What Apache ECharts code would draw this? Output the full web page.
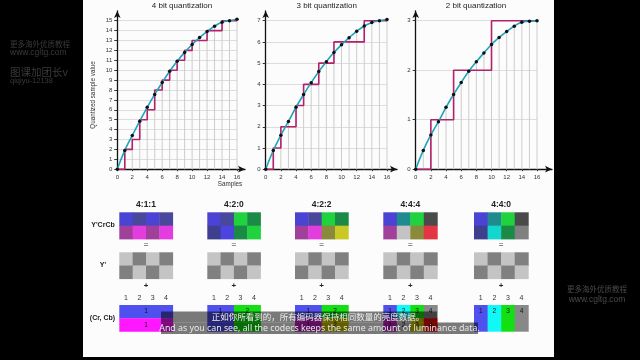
<!DOCTYPE html>
<html><head><meta charset="utf-8">
<script src="https://cdn.jsdelivr.net/npm/echarts@6/dist/echarts.min.js"></script>
<style>html,body{margin:0;padding:0;background:#000}#c{width:640px;height:360px}</style>
</head><body><div id="c"></div>
<script>
// ---------- data ----------
const samples = [0,1,2,3,4,5,6,7,8,9,10,11,12,13,14,15,16];
const curve4 = [0,1.9,3.4,4.85,6.25,7.55,8.75,9.9,10.9,11.8,12.6,13.3,13.9,14.45,14.85,15.0,15.15];
const quant4 = [0,2,3,5,6,8,9,10,11,12,13,13,14,14,15,15,15];
const curve3 = [0,0.88,1.6,2.25,2.92,3.52,4.08,4.6,5.07,5.5,5.87,6.2,6.5,6.75,6.92,7.0,7.06];
const quant3 = [0,1,2,2,3,4,4,5,5,6,6,6,6,7,7,7,7];
const curve2 = [0,0.38,0.69,0.96,1.25,1.51,1.75,1.98,2.17,2.35,2.52,2.66,2.78,2.89,2.97,2.99,3.0];
const quant2 = [0,0,1,1,1,2,2,2,2,2,3,3,3,3,3,3,3];
const chartTitles = ['4 bit quantization','3 bit quantization','2 bit quantization'];
const levelMax = [15,7,3];

const formats = ['4:1:1','4:2:0','4:2:2','4:4:4','4:4:0'];
const rowLabels = ["Y'CrCb","Y'","(Cr, Cb)"];
const columnNumbers = ['1','2','3','4'];
const ycc411 = [['#4a43d4','#4a489c','#4a43d4','#4a489c'],['#a1409b','#e33de0','#a1409b','#e33de0']];
const ycc420 = [['#4a43d4','#4a489c','#1fd23e','#1a8a46'],['#3f3f8f','#4b44e0','#1a8a46','#1fd23e']];
const ycc422 = [['#4a43d4','#4a489c','#1fd23e','#1a8a46'],['#a1409b','#e33de0','#8a8a3c','#c9c824']];
const ycc444 = [['#4a43d4','#1f8b8e','#1fd23e','#4a4a4a'],['#a1409b','#c3c3c3','#8a8a3c','#e33543']];
const ycc440 = [['#4a43d4','#1f8b8e','#1fd23e','#4a4a4a'],['#3f3f8f','#13d6cf','#1a8a46','#808080']];
const luma = [['#c4c4c4','#808080','#c4c4c4','#808080'],['#808080','#c4c4c4','#808080','#c4c4c4']];
// [col0, col1, row0, row1, colour, label]
const chroma411 = [[0,4,0,1,'#5050ee','1'],[0,4,1,2,'#ff18ff','1']];
const chroma420 = [[0,2,0,2,'#5050ee','1'],[2,4,0,2,'#12e012','2']];
const chroma422 = [[0,2,0,1,'#5050ee','1'],[2,4,0,1,'#12e012','2'],[0,2,1,2,'#c020c0','1'],[2,4,1,2,'#c8c400','2']];
const chroma444 = [[0,1,0,1,'#5050ee','1'],[1,2,0,1,'#10f8f8','2'],[2,3,0,1,'#12e012','3'],[3,4,0,1,'#888888','4'],
                   [0,1,1,2,'#c020c0','1'],[1,2,1,2,'#d0d0d0','2'],[2,3,1,2,'#c8c400','3'],[3,4,1,2,'#f01010','4']];
const chroma440 = [[0,1,0,2,'#5050ee','1'],[1,2,0,2,'#10f8f8','2'],[2,3,0,2,'#12e012','3'],[3,4,0,2,'#888888','4']];
const subtitleZh = '正如你所看到的，所有编码器保持相同数量的亮度数据。';
const subtitleEn = 'And as you can see, all the codecs keeps the same amount of luminance data.';

// ---------- layout ----------
const FONT = '"Liberation Sans", Arial, sans-serif';
const chart = echarts.init(document.getElementById('c'));
const grids = [], xAxes = [], yAxes = [], series = [], graphics = [];
function addGrid(g, xa, ya) {
  grids.push(g); xa.gridIndex = grids.length - 1; ya.gridIndex = grids.length - 1;
  xAxes.push(xa); yAxes.push(ya);
  return { xi: xAxes.length - 1, yi: yAxes.length - 1, gi: grids.length - 1 };
}
function txt(text, x, y, size, color, opts) {
  opts = opts || {};
  graphics.push({ type: 'text', x: x, y: y, z: opts.z || 50, style: {
    text: text, fill: color, fontSize: size, fontFamily: opts.family || FONT, fontWeight: opts.weight || 'normal',
    align: opts.align || 'center', textAlign: opts.align || 'center', verticalAlign: 'middle', textVerticalAlign: 'middle' } });
}

// panel
graphics.push({ type: 'rect', z: -10, shape: { x: 83, y: 0, width: 471, height: 357 }, style: { fill: '#fcfcfc' } });

// quantization charts
const curves = [curve4, curve3, curve2];
const quants = [quant4, quant3, quant2];
const cLeft = [117.3, 265.7, 415.7];
const cWidth = [119.7, 121.3, 121.3];
const cTop = 20.7, cBottom = 169.2;
const arrowX = [245, 397, 552];
const titleX = [182, 326.7, 476];
for (let i = 0; i < 3; i++) {
  const ax = addGrid({ left: cLeft[i], top: cTop, width: cWidth[i], height: cBottom - cTop },
    { type: 'value', min: 0, max: 16, interval: 2,
      axisLine: { show: false }, axisTick: { show: true, length: 2, lineStyle: { color: '#333' } },
      axisLabel: { fontSize: 6, color: '#333', margin: 5, fontFamily: FONT }, splitLine: { show: false } },
    { type: 'value', min: 0, max: levelMax[i], interval: 1,
      axisLine: { show: false }, axisTick: { show: true, length: 3, lineStyle: { color: '#333' } },
      axisLabel: { fontSize: 6, color: '#333', margin: 5, fontFamily: FONT },
      splitLine: { show: true, lineStyle: { color: '#d4d4d4', width: 0.8 } },
      name: i === 0 ? 'Quantized sample value' : '', nameLocation: 'middle', nameGap: 21, nameRotate: 90,
      nameTextStyle: { fontSize: 6.3, color: '#333', fontFamily: FONT } });
  series.push({ type: 'bar', xAxisIndex: ax.xi, yAxisIndex: ax.yi, barWidth: 1, silent: true, z: 1,
    itemStyle: { color: '#cdcdcd' }, data: samples.map((s, j) => [s, curves[i][j]]) });
  series.push({ type: 'line', xAxisIndex: ax.xi, yAxisIndex: ax.yi, step: 'end', symbol: 'none', z: 3, clip: false,
    lineStyle: { color: '#b3216b', width: 1.6 }, data: samples.map((s, j) => [s, quants[i][j]]) });
  series.push({ type: 'line', xAxisIndex: ax.xi, yAxisIndex: ax.yi, smooth: true, symbol: 'circle', symbolSize: 3.5, z: 4, clip: false,
    lineStyle: { color: '#1ea3bf', width: 1.6 }, itemStyle: { color: '#111' },
    data: samples.map((s, j) => [s, curves[i][j]]) });
  // axis lines with arrows
  const axisArrow = { show: true, symbol: ['none', 'arrow'], symbolSize: [5, 7], lineStyle: { color: '#111', width: 1.3 } };
  addGrid({ left: cLeft[i], top: 11, width: arrowX[i] - cLeft[i], height: cBottom - 11 },
    { type: 'value', min: 0, max: 1, axisLine: axisArrow, axisTick: { show: false }, axisLabel: { show: false }, splitLine: { show: false } },
    { type: 'value', min: 0, max: 1, axisLine: axisArrow, axisTick: { show: false }, axisLabel: { show: false }, splitLine: { show: false } });
  txt(chartTitles[i], titleX[i], 6, 8, '#222');
}
txt('Samples', 230, 184, 6.3, '#333');

// chroma subsampling grids
const yccBlocks = [ycc411, ycc420, ycc422, ycc444, ycc440];
const chromaBlocks = [chroma411, chroma420, chroma422, chroma444, chroma440];
const bLeft = [119.3, 207.3, 295, 383.3, 474];
const bWidth = [53.4, 53.2, 53.3, 54, 54.3];
const rTop = [212.3, 252.3, 305];
const rHeight = [26.7, 26.4, 26.3];
function toCells(m) {
  const out = [];
  m.forEach((row, r) => row.forEach((c, k) => out.push([k, k + 1, r, r + 1, c, null])));
  return out;
}
function cellSeries(items, ax) {
  return {
    type: 'custom', xAxisIndex: ax.xi, yAxisIndex: ax.yi, silent: true,
    encode: { x: [0, 1], y: [2, 3] },
    data: items.map(d => [d[0], d[1], d[2], d[3]]),
    renderItem: function (params, api) {
      const d = items[params.dataIndex];
      const a = api.coord([api.value(0), api.value(2)]);
      const b = api.coord([api.value(1), api.value(3)]);
      const x = Math.min(a[0], b[0]), y = Math.min(a[1], b[1]);
      const w = Math.abs(b[0] - a[0]), h = Math.abs(b[1] - a[1]);
      const children = [{ type: 'rect', shape: { x: x, y: y, width: w + 0.4, height: h + 0.4 }, style: { fill: d[4] } }];
      if (d[5]) {
        const p = api.coord([(api.value(0) + api.value(1)) / 2, api.value(2) + 0.5]);
        children.push({ type: 'text', x: p[0], y: p[1], style: { text: d[5], fill: '#111', fontSize: 6.5, fontFamily: FONT,
          align: 'center', verticalAlign: 'middle' } });
      }
      return { type: 'group', children: children };
    }
  };
}
const hiddenX = () => ({ type: 'value', min: 0, max: 4, show: false });
const hiddenY = () => ({ type: 'value', min: 0, max: 2, inverse: true, show: false });
for (let c = 0; c < 5; c++) {
  const rowsData = [toCells(yccBlocks[c]), toCells(luma), chromaBlocks[c]];
  for (let r = 0; r < 3; r++) {
    const ax = addGrid({ left: bLeft[c], top: rTop[r], width: bWidth[c], height: rHeight[r] }, hiddenX(), hiddenY());
    series.push(cellSeries(rowsData[r], ax));
    if (r === 2) {
      xAxes.push({ type: 'category', gridIndex: ax.gi, position: 'top', data: columnNumbers, boundaryGap: true,
        axisLine: { show: false }, axisTick: { show: false },
        axisLabel: { fontSize: 7, color: '#333', margin: 3, fontFamily: FONT } });
    }
  }
  const cx = bLeft[c] + bWidth[c] / 2;
  txt(formats[c], cx, 204.5, 8.5, '#222', { weight: 'bold' });
  txt('=', cx, 245, 8, '#888', { weight: 'bold' });
  txt('+', cx, 285.5, 8, '#222', { weight: 'bold' });
}
txt(rowLabels[0], 103, 225, 7, '#222', { weight: 'bold' });
txt(rowLabels[1], 103, 265, 7, '#222', { weight: 'bold' });
txt(rowLabels[2], 102.5, 318.3, 7, '#222', { weight: 'bold' });

// subtitles
graphics.push({ type: 'rect', z: 100, shape: { x: 161, y: 311.5, width: 276, height: 11 }, style: { fill: 'rgba(0,0,0,0.52)' } });
graphics.push({ type: 'rect', z: 100, shape: { x: 161, y: 322.5, width: 317, height: 11.5 }, style: { fill: 'rgba(0,0,0,0.52)' } });
txt(subtitleZh, 318, 317, 8.5, '#eeeeee', { z: 101, family: '"Noto Sans CJK SC", sans-serif' });
txt(subtitleEn, 319.5, 328.3, 8.8, '#e8e8e8', { z: 101, family: '"Noto Sans", sans-serif' });

// watermarks
const wmCJK = '"Noto Sans CJK SC", sans-serif';
txt('更多海外优质教程', 10, 44, 7.5, '#3a3a3a', { align: 'left', family: wmCJK });
txt('www.cgltg.com', 10, 53, 8.5, '#3a3a3a', { align: 'left' });
txt('图课加团长v', 10, 72, 10.5, '#3a3a3a', { align: 'left', family: wmCJK });
txt('qiqiyu-12138', 10, 81, 7.5, '#3a3a3a', { align: 'left' });
txt('更多海外优质教程', 597, 289, 7.5, '#4a4a4a', { family: wmCJK });
txt('www.cgltg.com', 597, 300, 8.5, '#4a4a4a');

chart.setOption({
  backgroundColor: '#000', animation: false,
  grid: grids, xAxis: xAxes, yAxis: yAxes, series: series, graphic: { elements: graphics }
});
</script></body></html>
